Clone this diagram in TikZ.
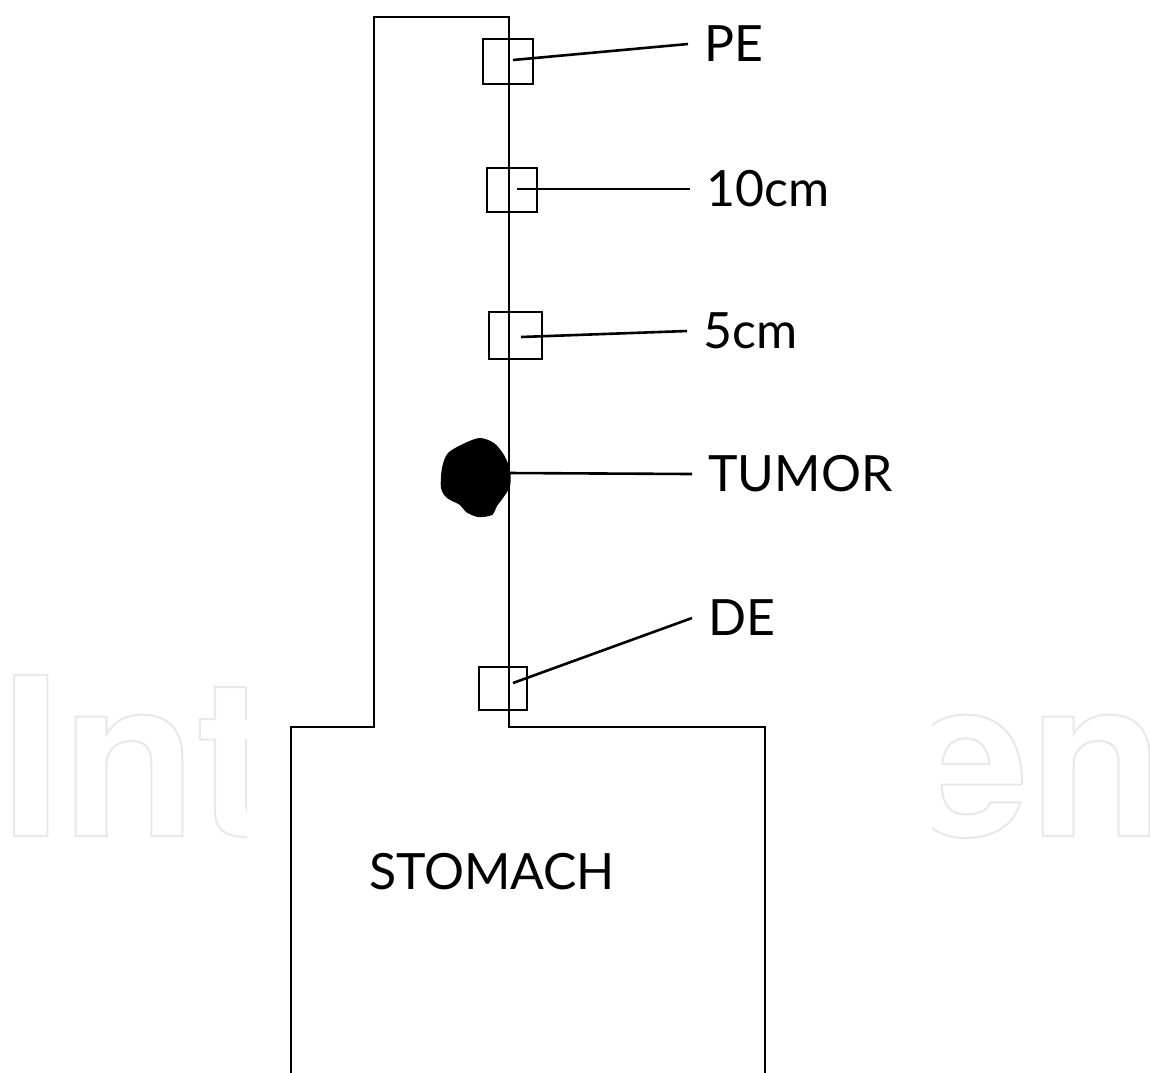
\documentclass[tikz,border=0pt]{standalone}
\usepackage{fontspec}
\setmainfont{Lato}
\newfontfamily\wmfont{TeX Gyre Heros}
\newcommand\wmoutline[1]{\special{pdf:literal direct q 1 Tr 2 w}#1\special{pdf:literal direct Q}}
\begin{document}
\begin{tikzpicture}[x=1pt,y=-1pt,
  organ/.style={line width=1.7pt, draw=black},
  sample/.style={draw, line width=2.9pt, minimum width=50pt, minimum height=45pt, inner sep=0pt},
  lead/.style={line width=2.6pt},
  lbl/.style={anchor=west, inner xsep=16pt, inner ysep=0pt, font=\fontsize{50}{60}\selectfont},
  wm/.style={inner sep=0pt, text=black!9, font=\wmfont\bfseries\fontsize{221}{250}\selectfont},
]
\useasboundingbox (0,0) rectangle (1150,1072);
\fill[white] (0,0) rectangle (1150,1072);

% watermark fragments
\begin{scope}
  \clip (0,0) rectangle (247,1072);
  \node[wm, anchor=base west] (wmL) at (0,836) {\wmoutline{Int}};
\end{scope}
\begin{scope}
  \clip (932,0) rectangle (1150,1072);
  \node[wm, anchor=base east] (wmR) at (1164,836) {\wmoutline{en}};
\end{scope}

% esophagus and stomach outline
\draw[organ] (291,1085) -- (291,727) -- (374,727) -- (374,17) -- (509,17)
  -- (509,727) -- (765,727) -- (765,1085);

% tumor
\fill[black] plot[smooth cycle, tension=0.5] coordinates {
  (480,438) (494,443) (504,455) (510,470) (510,486) (503,498) (497,506) (492,515)
  (478,517) (466,512) (460,505) (447,498) (441,488) (442,468) (448,453) (465,443)};
\coordinate (tumor) at (509,473);

% sample boxes
\node[sample] (pe) at (508,61.5) {};
\node[sample, minimum height=44pt] (cm10) at (512,190) {};
\node[sample, minimum width=53pt, minimum height=47pt] (cm5) at (515.5,335.5) {};
\node[sample, minimum width=48pt, minimum height=43pt] (de) at (503,688.5) {};

% lead start points
\coordinate (peS) at (513,60);
\coordinate (cm10S) at (517,189);
\coordinate (cm5S) at (521,337);
\coordinate (deS) at (513,683);

% labels
\node[lbl] (peL) at (688,44) {PE};
\node[lbl] (cm10L) at (690,189) {10cm};
\node[lbl] (cm5L) at (687,331) {5cm};
\node[lbl] (tumL) at (692,474) {TUMOR};
\node[lbl] (deL) at (692,618) {DE};
\node[font=\fontsize{50}{60}\selectfont, inner sep=0pt] (stomach) at (492,872) {STOMACH};

% leads
\draw[lead] (peS) -- (peL.west);
\draw[lead] (cm10S) -- (cm10L.west);
\draw[lead] (cm5S) -- (cm5L.west);
\draw[lead] (tumor) -- (tumL.west);
\draw[lead] (deS) -- (deL.west);
\end{tikzpicture}
\end{document}
